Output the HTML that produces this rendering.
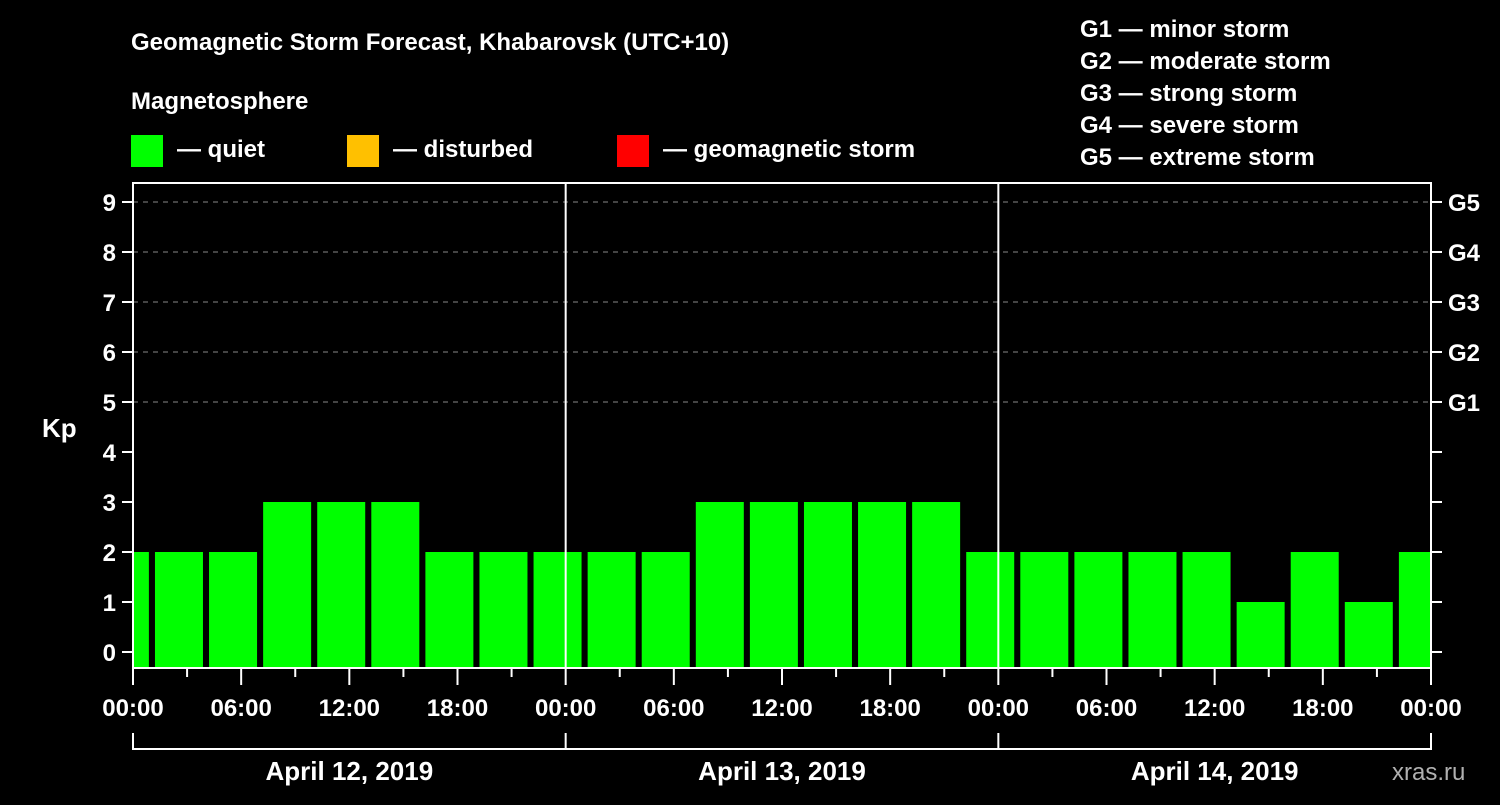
<!DOCTYPE html>
<html><head><meta charset="utf-8"><style>
body{margin:0;background:#000;width:1500px;height:800px;overflow:hidden}
text{font-family:"Liberation Sans",sans-serif;font-weight:bold;fill:#fff}
</style></head><body>
<svg id="c" width="1500" height="800" xmlns="http://www.w3.org/2000/svg">
<text x="131" y="50" font-size="24">Geomagnetic Storm Forecast, Khabarovsk (UTC+10)</text>
<text x="131" y="109" font-size="24">Magnetosphere</text>
<g><rect x="131" y="135" width="32" height="32" fill="#00ff00"/><text x="177" y="157" font-size="24">— quiet</text></g>
<g><rect x="347" y="135" width="32" height="32" fill="#ffc000"/><text x="393" y="157" font-size="24">— disturbed</text></g>
<g><rect x="617" y="135" width="32" height="32" fill="#ff0000"/><text x="663" y="157" font-size="24">— geomagnetic storm</text></g>
<g font-size="24">
<text x="1080" y="37">G1 — minor storm</text>
<text x="1080" y="69">G2 — moderate storm</text>
<text x="1080" y="101">G3 — strong storm</text>
<text x="1080" y="133">G4 — severe storm</text>
<text x="1080" y="165">G5 — extreme storm</text>
</g>
<text x="42" y="437" font-size="26">Kp</text>
<text x="1392" y="780" font-size="24" fill="#aaa" style="fill:#b0b0b0;font-weight:normal">xras.ru</text>
<defs><clipPath id="pc"><rect x="134" y="183" width="1297" height="485"/></clipPath></defs>
<g id="bars" clip-path="url(#pc)"></g>
<g id="axes"></g>
</svg>
<script>
const kpValues=[2,2,2,3,3,3,2,2,2,2,2,3,3,3,3,3,2,2,2,2,2,1,2,1,2];
const yTicks=[0,1,2,3,4,5,6,7,8,9];
const gLabels=["G1","G2","G3","G4","G5"];
const xTickLabels=["00:00","06:00","12:00","18:00","00:00","06:00","12:00","18:00","00:00","06:00","12:00","18:00","00:00"];
const dayLabels=["April 12, 2019","April 13, 2019","April 14, 2019"];
const X0=133,X1=1431,TOP=183,BOT=668;
const hx=h=>X0+(X1-X0)*h/72;
const ky=v=>652-50*v;
const NS="http://www.w3.org/2000/svg";
function mk(t,a,p){const e=document.createElementNS(NS,t);for(const k in a)e.setAttribute(k,a[k]);p.appendChild(e);return e;}
const bars=document.getElementById('bars'),ax=document.getElementById('axes');
kpValues.forEach((v,i)=>{const c=hx(i*3-0.45);
const col=v>=5?'#ff0000':(v>=4?'#ffc000':'#00ff00');
const r=mk('rect',{x:c-24,y:ky(v),width:48,height:BOT-ky(v),fill:col},bars);

});
yTicks.forEach(v=>{const y=ky(v);
mk('line',{x1:122,x2:X0,y1:y,y2:y,stroke:'#fff','stroke-width':2},ax);
mk('line',{x1:X1,x2:1442,y1:y,y2:y,stroke:'#fff','stroke-width':2},ax);
const t=mk('text',{x:116,y:y+9,'font-size':24,'text-anchor':'end'},ax);t.textContent=v;


if(v>=5){mk('line',{x1:X0,x2:X1,y1:y,y2:y,stroke:'#888','stroke-width':1,'stroke-dasharray':'5,5'},ax);
const g=mk('text',{x:1448,y:y+9,'font-size':24},ax);g.textContent=gLabels[v-5];

}});
mk('rect',{x:X0,y:TOP,width:X1-X0,height:BOT-TOP,fill:'none',stroke:'#fff','stroke-width':2},ax);
[24,48].forEach(h=>mk('line',{x1:hx(h),x2:hx(h),y1:TOP,y2:BOT,stroke:'#fff','stroke-width':2},ax));
for(let h=0;h<=72;h+=3){mk('line',{x1:hx(h),x2:hx(h),y1:BOT,y2:h%6==0?685:677,stroke:'#fff','stroke-width':2},ax);}
xTickLabels.forEach((s,i)=>{const t=mk('text',{x:hx(i*6),y:716,'font-size':24,'text-anchor':'middle'},ax);t.textContent=s;

});
mk('path',{d:`M${hx(0)} 733V749H${hx(72)}V733M${hx(24)} 733V749M${hx(48)} 733V749`,fill:'none',stroke:'#fff','stroke-width':2},ax);
dayLabels.forEach((s,i)=>{const t=mk('text',{x:hx(i*24+12),y:780,'font-size':26,'text-anchor':'middle'},ax);t.textContent=s;

});
</script>
</body></html>
